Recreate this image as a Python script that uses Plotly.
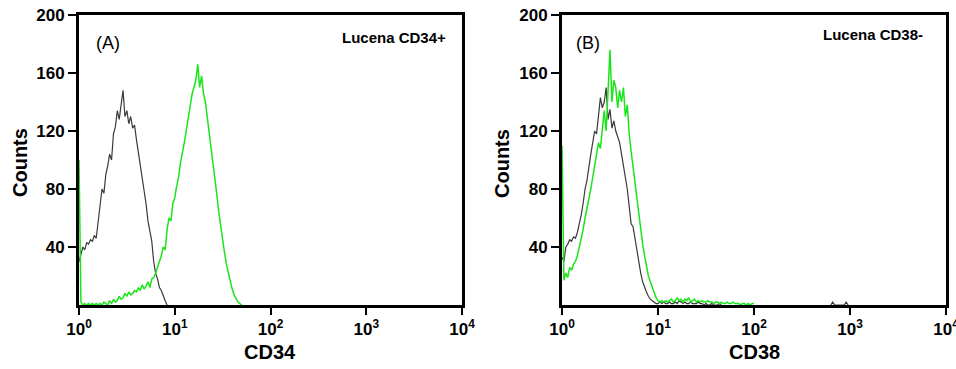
import plotly.graph_objects as go

# channel positions (log10 of fluorescence intensity)
channel_log = [
    0.00, 0.02, 0.04, 0.06, 0.08, 0.10, 0.12, 0.14, 0.16, 0.18,
    0.20, 0.22, 0.24, 0.26, 0.28, 0.30, 0.32, 0.34, 0.36, 0.38,
    0.40, 0.42, 0.44, 0.46, 0.48, 0.50, 0.52, 0.54, 0.56, 0.58,
    0.60, 0.62, 0.64, 0.66, 0.68, 0.70, 0.72, 0.74, 0.76, 0.78,
    0.80, 0.82, 0.84, 0.86, 0.88, 0.90, 0.92, 0.94, 0.96, 0.98,
    1.00, 1.02, 1.04, 1.06, 1.08, 1.10, 1.12, 1.14, 1.16, 1.18,
    1.20, 1.22, 1.24, 1.26, 1.28, 1.30, 1.32, 1.34, 1.36, 1.38,
    1.40, 1.42, 1.44, 1.46, 1.48, 1.50, 1.52, 1.54, 1.56, 1.58,
    1.60, 1.62, 1.64, 1.66, 1.68, 1.70, 1.72, 1.74, 1.76, 1.78,
    1.80, 1.82, 1.84, 1.86, 1.88, 1.90, 1.92, 1.94, 1.96, 1.98,
    2.00, 2.80, 2.82, 2.84, 2.94, 2.96, 2.98, 4.00,
]

N = None  # no events recorded / not drawn

# Panel A: isotype control (black) and CD34 (green)
a_control = [
    30, 36, 40, 38, 43, 42, 45, 44, 48, 46,
    58, 68, 80, 77, 90, 96, 104, 100, 118, 123,
    134, 128, 138, 148, 130, 134, 125, 130, 122, 124,
    114, 105, 98, 90, 78, 70, 58, 50, 44, 30,
    22, 18, 12, 10, 6, 3, 0, N, N, N,
    N, N, N, N, N, N, N, N, N, N,
    N, N, N, N, N, N, N, N, N, N,
    N, N, N, N, N, N, N, N, N, N,
    N, N, N, N, N, N, N, N, N, N,
    N, N, N, N, N, N, N, N, N, N,
    N, N, N, N, N, N, N, N,
]
a_cd34 = [
    100, 2, 0, 1, 0, 1, 0, 1, 0, 1,
    0, 1, 0, 2, 1, 0, 3, 1, 4, 2,
    3, 6, 4, 5, 8, 6, 9, 7, 8, 10,
    9, 12, 10, 14, 11, 13, 16, 12, 18, 19,
    22, 27, 30, 34, 40, 38, 52, 60, 58, 70,
    74, 82, 88, 98, 104, 112, 120, 128, 138, 145,
    150, 155, 166, 150, 158, 146, 140, 130, 118, 108,
    100, 88, 76, 64, 54, 44, 36, 28, 22, 16,
    11, 7, 4, 2, 1, 0, N, N, N, N,
    N, N, N, N, N, N, N, N, N, N,
    N, N, N, N, N, N, N, N,
]

# Panel B: isotype control (black) and CD38 (green)
b_control = [
    33, 30, 40, 42, 45, 44, 47, 46, 50, 55,
    62, 70, 80, 86, 96, 104, 112, 120, 118, 132,
    143, 136, 140, 150, 128, 135, 122, 127, 120, 116,
    112, 104, 96, 88, 80, 68, 56, 54, 46, 36,
    28, 22, 16, 12, 9, 6, 4, 3, 2, 1,
    1, 2, 1, 2, 1, 1, 2, 1, 1, 2,
    1, 3, 2, 1, 2, 1, 1, 2, 1, 1,
    1, 2, 1, 1, 0, 1, 0, 0, 1, 0,
    0, 0, 1, 0, N, N, N, N, N, N,
    N, N, N, N, N, N, N, N, N, N,
    N, 0, 2, 0, 0, 2, 0, N,
]
b_cd38 = [
    110, 17, 22, 19, 26, 24, 28, 30, 34, 40,
    44, 52, 60, 66, 74, 80, 88, 96, 104, 112,
    108, 122, 134, 120, 150, 176, 140, 155, 150, 136,
    148, 140, 150, 130, 138, 118, 106, 95, 86, 72,
    62, 52, 42, 34, 26, 20, 16, 12, 8, 5,
    3, 2, 3, 2, 3, 2, 3, 4, 2, 3,
    5, 3, 4, 2, 4, 3, 5, 2, 3, 4,
    2, 3, 2, 3, 2, 2, 3, 2, 2, 1,
    2, 2, 1, 2, 1, 1, 2, 1, 1, 2,
    1, 1, 1, 0, 1, 1, 0, 1, 0, 1,
    1, N, N, N, N, N, N, N,
]

y_tick_vals = [40, 80, 120, 160, 200]
x_tick_vals = [1, 10, 100, 1000, 10000]
x_tick_text = ["10<sup>0</sup>", "10<sup>1</sup>", "10<sup>2</sup>",
               "10<sup>3</sup>", "10<sup>4</sup>"]

x_vals = [10 ** v for v in channel_log]

BLACK = "#3a3a3a"
GREEN = "#19e619"

W, H = 956, 369

def px(x):
    return x / W

def py(y):
    return 1 - y / H

fig = go.Figure()
fig.add_trace(go.Scatter(x=x_vals, y=a_control, mode="lines",
                         line=dict(color=BLACK, width=1.2), xaxis="x", yaxis="y",
                         name="Control", showlegend=False))
fig.add_trace(go.Scatter(x=x_vals, y=a_cd34, mode="lines",
                         line=dict(color=GREEN, width=1.5), xaxis="x", yaxis="y",
                         name="CD34", showlegend=False))
fig.add_trace(go.Scatter(x=x_vals, y=b_control, mode="lines",
                         line=dict(color=BLACK, width=1.2), xaxis="x2", yaxis="y2",
                         name="Control", showlegend=False))
fig.add_trace(go.Scatter(x=x_vals, y=b_cd38, mode="lines",
                         line=dict(color=GREEN, width=1.5), xaxis="x2", yaxis="y2",
                         name="CD38", showlegend=False))

FONT = "Liberation Sans, Arial, sans-serif"

def xaxis_cfg(domain, anchor):
    return dict(domain=domain, anchor=anchor, type="log", range=[0, 4],
                automargin=False, ticklabeloverflow="allow",
                showline=True, linecolor="black", linewidth=3, mirror=True,
                ticks="outside", ticklen=7, tickwidth=2, tickcolor="black",
                tickvals=x_tick_vals, ticktext=x_tick_text,
                tickfont=dict(family=FONT, size=17, color="black", weight="bold"),
                showgrid=False, zeroline=False)

def yaxis_cfg(domain, anchor):
    return dict(domain=domain, anchor=anchor, range=[0, 200],
                automargin=False, ticklabeloverflow="allow",
                showline=True, linecolor="black", linewidth=3, mirror=True,
                ticks="outside", ticklen=8, tickwidth=2, tickcolor="black",
                tickvals=y_tick_vals,
                tickfont=dict(family=FONT, size=17, color="black", weight="bold"),
                showgrid=False, zeroline=False)

ydom = [py(305), py(15)]
fig.update_layout(
    width=W, height=H,
    margin=dict(l=0, r=0, t=0, b=0),
    paper_bgcolor="white", plot_bgcolor="white",
    xaxis=xaxis_cfg([px(79), px(462)], "y"),
    yaxis=yaxis_cfg(ydom, "x"),
    xaxis2=xaxis_cfg([px(562), px(946)], "y2"),
    yaxis2=yaxis_cfg(ydom, "x2"),
)

ann = []
def add_text(text, x, y, size, bold=True, angle=0, xanchor="center"):
    ann.append(dict(text=text, x=px(x), y=py(y), xref="paper", yref="paper",
                    showarrow=False, xanchor=xanchor, yanchor="middle", textangle=angle,
                    font=dict(family=FONT, size=size, color="black",
                              weight="bold" if bold else "normal")))

add_text("(A)", 108, 43, 18, bold=False)
add_text("(B)", 588, 43, 18, bold=False)
add_text("Lucena CD34+", 448, 37, 15, xanchor="right")
add_text("Lucena CD38-", 925, 35, 15, xanchor="right")
add_text("Counts", 20, 163, 20, angle=-90)
add_text("Counts", 502, 163, 20, angle=-90)
add_text("CD34", 270, 352, 20)
add_text("CD38", 754, 352, 20)
fig.update_layout(annotations=ann)

fig.write_html("out.html", config={"displayModeBar": False},
               post_script="document.body.style.margin='0';document.body.style.overflow='hidden';")
